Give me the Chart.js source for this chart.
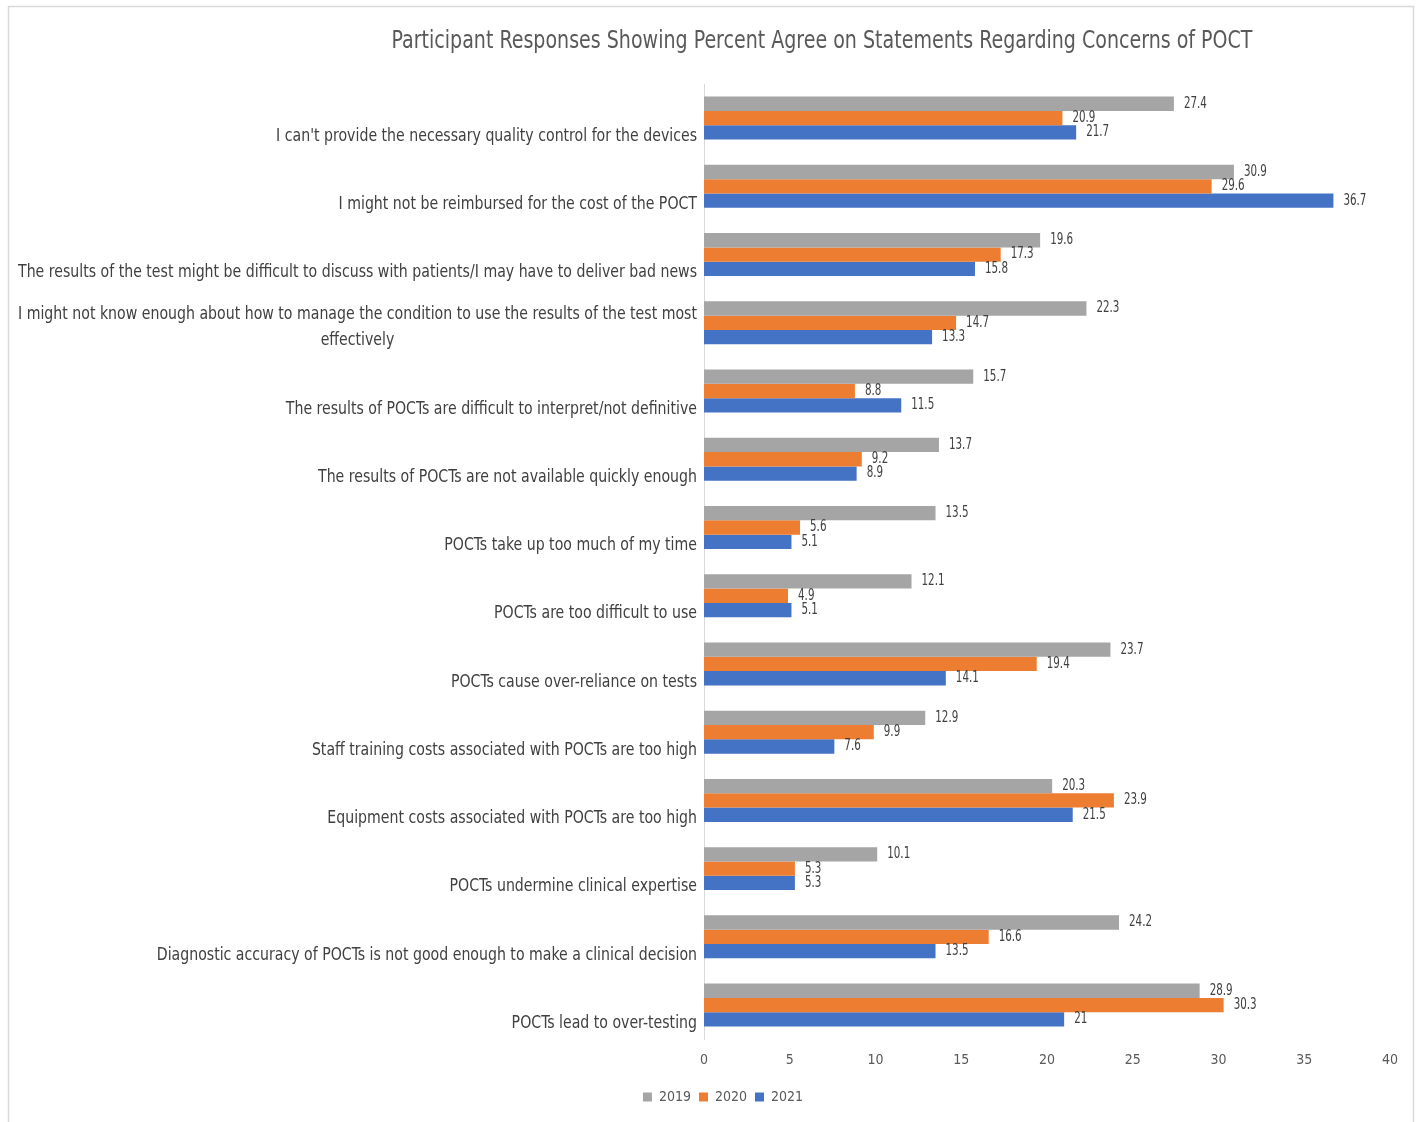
<!DOCTYPE html>
<html lang="en">
<head>
  <meta charset="UTF-8">
  <title>Concerns of POCT</title>
  <style>
    html, body { margin: 0; padding: 0; background: #fff; }
    #wrap { position: relative; width: 1416px; height: 1122px; }
  </style>
</head>
<body>
<div id="wrap">
  <canvas id="myChart" width="1416" height="1122"></canvas>
</div>

<script src="https://cdn.jsdelivr.net/npm/chart.js@4.4.0/dist/chart.umd.min.js"></script>
<script>
  // data
  const statements = [
    "I can't provide the necessary quality control for the devices",
    "I might not be reimbursed for the cost of the POCT",
    "The results of the test might be difficult to discuss with patients/I may have to deliver bad news",
    ["I might not know enough about how to manage the condition to use the results of the test most", "effectively"],
    "The results of POCTs are difficult to interpret/not definitive",
    "The results of POCTs are not available quickly enough",
    "POCTs take up too much of my time",
    "POCTs are too difficult to use",
    "POCTs cause over-reliance on tests",
    "Staff training costs associated with POCTs are too high",
    "Equipment costs associated with POCTs are too high",
    "POCTs undermine clinical expertise",
    "Diagnostic accuracy of POCTs is not good enough to make a clinical decision",
    "POCTs lead to over-testing"
  ]
  const years = ['2019', '2020', '2021']
  const agree2019 = [27.4, 30.9, 19.6, 22.3, 15.7, 13.7, 13.5, 12.1, 23.7, 12.9, 20.3, 10.1, 24.2, 28.9]
  const agree2020 = [20.9, 29.6, 17.3, 14.7, 8.8, 9.2, 5.6, 4.9, 19.4, 9.9, 23.9, 5.3, 16.6, 30.3]
  const agree2021 = [21.7, 36.7, 15.8, 13.3, 11.5, 8.9, 5.1, 5.1, 14.1, 7.6, 21.5, 5.3, 13.5, 21]
  const xTicks = [0, 5, 10, 15, 20, 25, 30, 35, 40]
  const titleText = 'Participant Responses Showing Percent Agree on Statements Regarding Concerns of POCT'

  const FONT = "'DejaVu Sans Condensed', 'Liberation Sans Narrow', 'Open Sans', sans-serif"
  const colors = ['#a5a5a5', '#ed7d31', '#4472c4']

  // the original uses a narrow office font; squeeze our text sideways to match
  function squeezed(c, text, x, y, sx) {
    c.save()
    c.translate(x, y)
    c.scale(sx, 1)
    c.fillText(text, 0, 0)
    c.restore()
  }

  // frame + title
  const framePlugin = {
    id: 'frame',
    beforeDraw(chart) {
      const c = chart.ctx
      c.save()
      c.strokeStyle = '#d9d9d9'
      c.lineWidth = 1.5
      c.strokeRect(8.5, 6.5, 1405, 1130)
      c.fillStyle = '#595959'
      c.font = '25px ' + FONT
      c.textAlign = 'center'
      c.textBaseline = 'middle'
      const sx = 861 / c.measureText(titleText).width
      squeezed(c, titleText, 822, 41, sx)
      c.restore()
    }
  }

  // category labels: right aligned, wrapped ones centred (like the office chart)
  const catLabelPlugin = {
    id: 'catLabels',
    afterDraw(chart) {
      const c = chart.ctx
      const ys = chart.scales.y
      const right = 697
      c.save()
      c.fillStyle = '#404040'
      c.font = '18px ' + FONT
      c.textBaseline = 'middle'
      const sx = 679 / c.measureText(statements[3][0]).width
      statements.forEach((lab, i) => {
        const lines = Array.isArray(lab) ? lab : [lab]
        const yc = ys.getPixelForValue(i) + 18
        if (lines.length === 1) {
          c.textAlign = 'right'
          squeezed(c, lines[0], right, yc, sx)
        } else {
          const maxW = Math.max(...lines.map(l => c.measureText(l).width)) * sx
          c.textAlign = 'center'
          lines.forEach((l, k) => {
            squeezed(c, l, right - maxW / 2, yc - (lines.length - 1 - k) * 26, sx)
          })
        }
      })
      c.restore()
    }
  }

  // value labels at the end of each bar
  const valueLabelPlugin = {
    id: 'valueLabels',
    afterDatasetsDraw(chart) {
      const c = chart.ctx
      c.save()
      c.fillStyle = '#404040'
      c.font = '15px ' + FONT
      c.textAlign = 'left'
      c.textBaseline = 'middle'
      const sx = 23 / c.measureText('27.4').width
      chart.data.datasets.forEach((ds, di) => {
        chart.getDatasetMeta(di).data.forEach((bar, i) => {
          squeezed(c, String(ds.data[i]), bar.x + 10, bar.y, sx)
        })
      })
      c.restore()
    }
  }

  const ctx = document.getElementById('myChart')
  const myChart = new Chart(ctx, {
    type: 'bar',
    data: {
      labels: statements,
      datasets: [
        { label: years[0], data: agree2019, backgroundColor: colors[0] },
        { label: years[1], data: agree2020, backgroundColor: colors[1] },
        { label: years[2], data: agree2021, backgroundColor: colors[2] }
      ]
    },
    options: {
      indexAxis: 'y',
      responsive: false,
      animation: false,
      devicePixelRatio: 1,
      layout: { padding: { top: 84, left: 56, right: 26, bottom: 8 } },
      datasets: { bar: { barPercentage: 1, categoryPercentage: 0.63, borderWidth: 0 } },
      scales: {
        x: {
          min: 0,
          max: 40,
          afterBuildTicks: s => { s.ticks = xTicks.map(v => ({ value: v })) },
          grid: { display: false },
          border: { display: false },
          ticks: { color: '#595959', font: { family: FONT, size: 14 }, padding: 5 },
          afterFit: s => { s.height += 8 }
        },
        y: {
          grid: { display: false },
          border: { display: true, color: '#d9d9d9', width: 1 },
          ticks: { display: false },
          afterFit: s => { s.width = 648 }
        }
      },
      plugins: {
        legend: {
          position: 'bottom',
          labels: {
            boxWidth: 9,
            boxHeight: 9,
            padding: 8,
            color: '#595959',
            font: { family: FONT, size: 14 }
          }
        },
        tooltip: { enabled: false }
      }
    },
    plugins: [framePlugin, catLabelPlugin, valueLabelPlugin]
  })
</script>
</body>
</html>
